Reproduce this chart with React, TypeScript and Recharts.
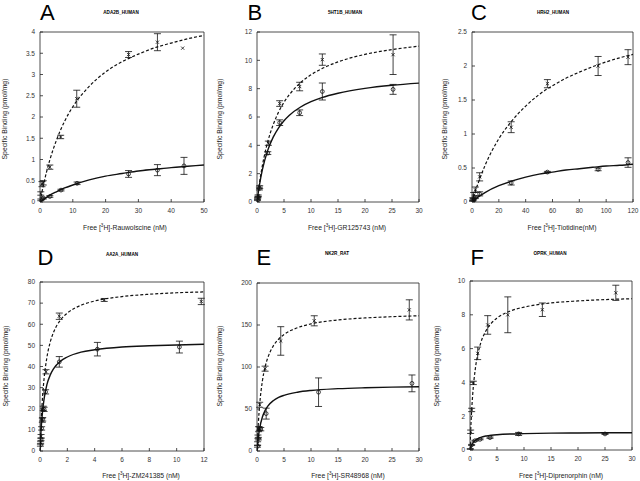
import { ComposedChart, Line, Scatter, ErrorBar, XAxis, YAxis } from "recharts";

// ─── Data ─────────────────────────────────────────────────────────────────────

// A – ADA2B_HUMAN
const A_CURVE_X = [0, 0.5, 1, 2, 3, 5, 7.5, 10, 15, 20, 25, 30, 35, 40, 45, 50];
const A_DASHED = [0, 0.2, 0.38, 0.71, 0.99, 1.45, 1.9, 2.24, 2.72, 3.06, 3.3, 3.48, 3.63, 3.74, 3.84, 3.92];
const A_SOLID = [0, 0.03, 0.057, 0.11, 0.16, 0.24, 0.33, 0.4, 0.52, 0.61, 0.67, 0.73, 0.77, 0.81, 0.84, 0.87];
const A_CROSS_X = [0.25, 0.6, 1.0, 3.0, 6.3, 11.2, 27.0, 35.8, 43.5];
const A_CROSS_Y = [0.2, 0.42, 0.45, 0.82, 1.53, 2.43, 3.47, 3.76, 3.62];
const A_CROSS_ERR = [0.04, 0.06, 0.05, 0.05, 0.04, 0.2, 0.07, 0.2, 0];
const A_CIRCLE_X = [0.25, 1.0, 3.0, 6.4, 11.3, 27.0, 35.8, 43.9];
const A_CIRCLE_Y = [0.05, 0.09, 0.13, 0.28, 0.44, 0.66, 0.75, 0.85];
const A_CIRCLE_ERR = [0.02, 0.02, 0.02, 0.02, 0.03, 0.08, 0.13, 0.2];
const A_X_TICKS = [0, 10, 20, 30, 40, 50];
const A_Y_TICKS = [0, 0.5, 1, 1.5, 2, 2.5, 3, 3.5, 4];

// B – 5HT1B_HUMAN
const B_CURVE_X = [0, 0.25, 0.5, 1, 2, 3, 4, 5, 6, 8, 10, 12, 15, 20, 25, 30];
const B_DASHED = [0, 0.76, 1.44, 2.58, 4.27, 5.46, 6.35, 7.04, 7.58, 8.4, 8.98, 9.41, 9.89, 10.42, 10.76, 11.0];
const B_SOLID = [0, 0.7, 1.3, 2.28, 3.66, 4.58, 5.24, 5.74, 6.13, 6.69, 7.08, 7.37, 7.68, 8.02, 8.24, 8.39];
const B_CROSS_X = [0.1, 0.2, 0.5, 2.1, 4.2, 7.9, 12.1, 25.2];
const B_CROSS_Y = [0.25, 0.45, 1.05, 4.15, 6.95, 8.15, 10.05, 10.4];
const B_CROSS_ERR = [0.05, 0.05, 0.1, 0.15, 0.2, 0.3, 0.4, 1.4];
const B_CIRCLE_X = [0.1, 0.2, 0.45, 2.0, 4.2, 7.9, 12.1, 25.2];
const B_CIRCLE_Y = [0.15, 0.35, 0.95, 3.45, 5.6, 6.3, 7.8, 7.95];
const B_CIRCLE_ERR = [0.05, 0.05, 0.1, 0.1, 0.2, 0.2, 0.6, 0.35];
const B_X_TICKS = [0, 5, 10, 15, 20, 25, 30];
const B_Y_TICKS = [0, 2, 4, 6, 8, 10, 12];

// C – HRH2_HUMAN
const C_CURVE_X = [0, 2, 5, 10, 20, 30, 40, 50, 60, 70, 80, 90, 100, 110, 120];
const C_DASHED = [0, 0.13, 0.3, 0.55, 0.93, 1.2, 1.41, 1.58, 1.71, 1.82, 1.91, 1.99, 2.06, 2.12, 2.17];
const C_SOLID = [0, 0.034, 0.079, 0.143, 0.24, 0.31, 0.365, 0.41, 0.44, 0.47, 0.49, 0.51, 0.53, 0.54, 0.556];
const C_CROSS_X = [0.5, 1.2, 2.5, 5.7, 29.2, 56.2, 94, 116.3];
const C_CROSS_Y = [0.04, 0.1, 0.18, 0.37, 1.1, 1.74, 2.0, 2.13];
const C_CROSS_ERR = [0.02, 0.04, 0.04, 0.06, 0.08, 0.06, 0.14, 0.11];
const C_CIRCLE_X = [0.5, 1.2, 2.5, 5.7, 29.2, 56.2, 94, 116.3];
const C_CIRCLE_Y = [0.02, 0.04, 0.07, 0.12, 0.28, 0.44, 0.48, 0.58];
const C_CIRCLE_ERR = [0.01, 0.01, 0.02, 0.03, 0.03, 0.01, 0.02, 0.07];
const C_X_TICKS = [0, 20, 40, 60, 80, 100, 120];
const C_Y_TICKS = [0, 0.5, 1, 1.5, 2, 2.5];

// D – AA2A_HUMAN
const D_CURVE_X = [0, 0.05, 0.1, 0.2, 0.3, 0.5, 0.75, 1, 1.5, 2, 3, 4, 6, 8, 10, 12];
const D_DASHED = [0, 9.0, 16.2, 26.8, 34.3, 44.1, 51.6, 56.3, 62.0, 65.3, 69.0, 71.0, 73.1, 74.2, 74.9, 75.3];
const D_SOLID = [0, 6.8, 12.1, 19.6, 24.7, 31.3, 36.0, 39.0, 42.5, 44.5, 46.8, 47.9, 49.2, 49.8, 50.2, 50.5];
const D_CROSS_X = [0.05, 0.08, 0.17, 0.24, 0.44, 1.41, 4.7, 11.8];
const D_CROSS_Y = [3.9, 7.0, 14.6, 20.2, 37.5, 63.8, 71.5, 70.8];
const D_CROSS_ERR = [0.5, 0.8, 1, 1, 1, 1.5, 0.7, 1.5];
const D_CIRCLE_X = [0.03, 0.07, 0.12, 0.2, 0.3, 0.41, 1.41, 4.2, 10.2];
const D_CIRCLE_Y = [2.8, 5.5, 10.7, 15, 19.7, 28, 42.2, 48.2, 49.2];
const D_CIRCLE_ERR = [0.5, 0.5, 0.8, 0.8, 1, 1, 2.5, 3.2, 2.8];
const D_X_TICKS = [0, 2, 4, 6, 8, 10, 12];
const D_Y_TICKS = [0, 10, 20, 30, 40, 50, 60, 70, 80];

// E – NK2R_RAT
const E_CURVE_X = [0, 0.1, 0.25, 0.5, 1, 1.5, 2, 3, 4, 5, 7.5, 10, 15, 20, 25, 30];
const E_DASHED = [0, 15.2, 33.4, 55.6, 83.4, 100, 111, 124.9, 133.2, 138.7, 146.8, 151.3, 156, 158.4, 159.9, 161];
const E_SOLID = [0, 7.5, 16.4, 27.2, 40.5, 48.3, 53.5, 59.9, 63.8, 66.3, 70.0, 72.1, 74.2, 75.3, 76.0, 76.5];
const E_CROSS_X = [0.12, 0.18, 0.3, 0.5, 1.5, 4.4, 10.6, 28.2];
const E_CROSS_Y = [9, 17, 26, 55, 98, 131, 155, 168];
const E_CROSS_ERR = [2, 2, 3, 3, 3, 17, 6, 12];
const E_CIRCLE_X = [0.1, 0.25, 0.43, 0.7, 1.7, 11.4, 28.7];
const E_CIRCLE_Y = [5.6, 14.7, 26.7, 26, 44.5, 70, 80.5];
const E_CIRCLE_ERR = [1, 1.5, 2, 2, 6.5, 17, 10];
const E_X_TICKS = [0, 5, 10, 15, 20, 25, 30];
const E_Y_TICKS = [0, 50, 100, 150, 200];

// F – OPRK_HUMAN
const F_CURVE_X = [0, 0.1, 0.25, 0.5, 1, 1.5, 2, 3, 4, 5, 7.5, 10, 15, 20, 25, 30];
const F_DASHED = [0, 0.92, 2.0, 3.28, 4.84, 5.75, 6.35, 7.08, 7.52, 7.81, 8.23, 8.45, 8.7, 8.82, 8.9, 8.95];
const F_SOLID = [0, 0.117, 0.25, 0.4, 0.58, 0.68, 0.75, 0.83, 0.875, 0.905, 0.95, 0.97, 1.0, 1.01, 1.017, 1.02];
const F_CROSS_X = [0.12, 0.31, 0.62, 1.42, 3.28, 7.0, 13.4, 27.0];
const F_CROSS_Y = [1.08, 2.37, 3.97, 5.72, 7.4, 8.0, 8.3, 9.3];
const F_CROSS_ERR = [0.1, 0.1, 0.1, 0.37, 0.55, 1.06, 0.4, 0.45];
const F_CIRCLE_X = [0.05, 0.3, 0.93, 1.85, 3.7, 9.0, 25];
const F_CIRCLE_Y = [0.06, 0.3, 0.55, 0.63, 0.73, 0.95, 0.95];
const F_CIRCLE_ERR = [0.02, 0.03, 0.03, 0.03, 0.04, 0.09, 0.03];
const F_X_TICKS = [0, 5, 10, 15, 20, 25, 30];
const F_Y_TICKS = [0, 2, 4, 6, 8, 10];

const Y_LABEL = "Specific Binding (pmol/mg)";

// ─── Helpers ──────────────────────────────────────────────────────────────────

interface Pt {
  x: number;
  y: number;
  e?: number;
}

const toPoints = (xs: number[], ys: number[], es?: number[]): Pt[] =>
  xs.map((x, i) => ({ x, y: ys[i], e: es ? es[i] : undefined }));

const FONT = '"Liberation Sans", Arial, Helvetica, sans-serif';
const INK = "#111";
const FRAME = "#222";

function CrossMark(props: any) {
  const { cx, cy } = props;
  const s = 1.6;
  return (
    <g stroke={INK} strokeWidth={0.8}>
      <line x1={cx - s} y1={cy - s} x2={cx + s} y2={cy + s} />
      <line x1={cx - s} y1={cy + s} x2={cx + s} y2={cy - s} />
    </g>
  );
}

function CircleMark(props: any) {
  const { cx, cy } = props;
  return <circle cx={cx} cy={cy} r={1.9} fill="none" stroke={INK} strokeWidth={0.8} />;
}

// ─── Panel ────────────────────────────────────────────────────────────────────

interface PanelProps {
  letter: string;
  title: string;
  ligand: string; // text after "Free [3H]-"
  plot: [number, number, number, number]; // left, top, width, height
  xTicks: number[];
  yTicks: number[];
  curveX: number[];
  dashed: number[];
  solid: number[];
  crosses: Pt[];
  circles: Pt[];
  letterAt: [number, number];
  titleAt: [number, number];
  xLabelAt: [number, number];
  yLabelAt: [number, number];
}

const PAD_L = 40;
const PAD_R = 8;
const PAD_T = 32;
const PAD_B = 36;

function Panel(p: PanelProps) {
  const [px, py, pw, ph] = p.plot;
  const xMax = p.xTicks[p.xTicks.length - 1];
  const yMax = p.yTicks[p.yTicks.length - 1];
  const dashedData = p.curveX.map((x, i) => ({ x, y: p.dashed[i] }));
  const solidData = p.curveX.map((x, i) => ({ x, y: p.solid[i] }));
  const tickFont = { fontSize: 6.5, fill: "#333" };
  const axisStroke = { stroke: FRAME, strokeWidth: 0.8 };

  return (
    <>
      <div
        style={{
          position: "absolute",
          left: p.letterAt[0],
          top: p.letterAt[1],
          fontSize: 22,
          color: "#000",
        }}
      >
        {p.letter}
      </div>
      <div
        style={{
          position: "absolute",
          left: p.titleAt[0],
          top: p.titleAt[1],
          transform: "translate(-50%, -50%)",
          fontSize: 4.6,
          fontWeight: 700,
          lineHeight: 1,
          whiteSpace: "nowrap",
        }}
      >
        {p.title}
      </div>
      <div
        style={{
          position: "absolute",
          left: p.xLabelAt[0],
          top: p.xLabelAt[1],
          transform: "translate(-50%, -50%)",
          fontSize: 6.8,
          lineHeight: 1,
          whiteSpace: "nowrap",
          color: "#222",
        }}
      >
        Free [<sup style={{ fontSize: 4.6, verticalAlign: 2.5, lineHeight: 0 }}>3</sup>H]-{p.ligand}
      </div>
      <div
        style={{
          position: "absolute",
          left: p.yLabelAt[0],
          top: p.yLabelAt[1],
          transform: "translate(-50%, -50%) rotate(-90deg)",
          fontSize: 6.8,
          lineHeight: 1,
          whiteSpace: "nowrap",
          color: "#222",
        }}
      >
        {Y_LABEL}
      </div>
      <div style={{ position: "absolute", left: px - PAD_L, top: py - PAD_T }}>
        <ComposedChart
          width={pw + PAD_L + PAD_R}
          height={ph + PAD_T + PAD_B}
          margin={{ top: 0, right: 0, bottom: 0, left: 0 }}
        >
          <XAxis
            dataKey="x"
            type="number"
            domain={[0, xMax]}
            ticks={p.xTicks}
            interval={0}
            allowDataOverflow
            height={PAD_B}
            tickSize={-3}
            tickMargin={9}
            axisLine={axisStroke}
            tickLine={axisStroke}
            tick={tickFont}
          />
          <XAxis
            xAxisId="top"
            orientation="top"
            type="number"
            domain={[0, xMax]}
            ticks={p.xTicks}
            interval={0}
            allowDataOverflow
            height={PAD_T}
            tickSize={-3}
            axisLine={axisStroke}
            tickLine={axisStroke}
            tick={false}
          />
          <YAxis
            dataKey="y"
            type="number"
            domain={[0, yMax]}
            ticks={p.yTicks}
            interval={0}
            allowDataOverflow
            width={PAD_L}
            tickSize={-3}
            tickMargin={8}
            axisLine={axisStroke}
            tickLine={axisStroke}
            tick={tickFont}
          />
          <YAxis
            yAxisId="right"
            orientation="right"
            type="number"
            domain={[0, yMax]}
            ticks={p.yTicks}
            interval={0}
            allowDataOverflow
            width={PAD_R}
            tickSize={-3}
            axisLine={axisStroke}
            tickLine={axisStroke}
            tick={false}
          />
          <Line
            data={dashedData}
            dataKey="y"
            type="monotone"
            stroke={INK}
            strokeWidth={1.2}
            strokeDasharray="3 2"
            dot={false}
            activeDot={false}
            isAnimationActive={false}
          />
          <Line
            data={solidData}
            dataKey="y"
            type="monotone"
            stroke={INK}
            strokeWidth={1.4}
            dot={false}
            activeDot={false}
            isAnimationActive={false}
          />
          <Scatter data={p.crosses} dataKey="y" shape={CrossMark} isAnimationActive={false}>
            <ErrorBar dataKey="e" direction="y" width={3.5} stroke={INK} strokeWidth={0.8} />
          </Scatter>
          <Scatter data={p.circles} dataKey="y" shape={CircleMark} isAnimationActive={false}>
            <ErrorBar dataKey="e" direction="y" width={3.5} stroke={INK} strokeWidth={0.8} />
          </Scatter>
        </ComposedChart>
      </div>
    </>
  );
}

// ─── App ──────────────────────────────────────────────────────────────────────

export default function App() {
  return (
    <div
      style={{
        position: "absolute",
        left: 0,
        top: 0,
        width: 640,
        height: 481,
        background: "#fff",
        overflow: "hidden",
        fontFamily: FONT,
      }}
    >
      <Panel
        letter="A"
        title="ADA2B_HUMAN"
        ligand="Rauwolscine (nM)"
        plot={[40, 32, 164, 170]}
        xTicks={A_X_TICKS}
        yTicks={A_Y_TICKS}
        curveX={A_CURVE_X}
        dashed={A_DASHED}
        solid={A_SOLID}
        crosses={toPoints(A_CROSS_X, A_CROSS_Y, A_CROSS_ERR)}
        circles={toPoints(A_CIRCLE_X, A_CIRCLE_Y, A_CIRCLE_ERR)}
        letterAt={[40, 0]}
        titleAt={[121, 13]}
        xLabelAt={[125, 228]}
        yLabelAt={[5, 119]}
      />
      <Panel
        letter="B"
        title="5HT1B_HUMAN"
        ligand="GR125743 (nM)"
        plot={[257, 32, 162, 170]}
        xTicks={B_X_TICKS}
        yTicks={B_Y_TICKS}
        curveX={B_CURVE_X}
        dashed={B_DASHED}
        solid={B_SOLID}
        crosses={toPoints(B_CROSS_X, B_CROSS_Y, B_CROSS_ERR)}
        circles={toPoints(B_CIRCLE_X, B_CIRCLE_Y, B_CIRCLE_ERR)}
        letterAt={[247.5, 0]}
        titleAt={[345, 13]}
        xLabelAt={[347, 228]}
        yLabelAt={[220, 119]}
      />
      <Panel
        letter="C"
        title="HRH2_HUMAN"
        ligand="Tiotidine(nM)"
        plot={[472, 32, 161, 170]}
        xTicks={C_X_TICKS}
        yTicks={C_Y_TICKS}
        curveX={C_CURVE_X}
        dashed={C_DASHED}
        solid={C_SOLID}
        crosses={toPoints(C_CROSS_X, C_CROSS_Y, C_CROSS_ERR)}
        circles={toPoints(C_CIRCLE_X, C_CIRCLE_Y, C_CIRCLE_ERR)}
        letterAt={[471, 0]}
        titleAt={[553, 13]}
        xLabelAt={[562, 228]}
        yLabelAt={[445, 119]}
      />
      <Panel
        letter="D"
        title="AA2A_HUMAN"
        ligand="ZM241385 (nM)"
        plot={[40, 282, 164, 169]}
        xTicks={D_X_TICKS}
        yTicks={D_Y_TICKS}
        curveX={D_CURVE_X}
        dashed={D_DASHED}
        solid={D_SOLID}
        crosses={toPoints(D_CROSS_X, D_CROSS_Y, D_CROSS_ERR)}
        circles={toPoints(D_CIRCLE_X, D_CIRCLE_Y, D_CIRCLE_ERR)}
        letterAt={[37.5, 245]}
        titleAt={[122, 255]}
        xLabelAt={[141, 476]}
        yLabelAt={[6, 366]}
      />
      <Panel
        letter="E"
        title="NK2R_RAT"
        ligand="SR48968 (nM)"
        plot={[257, 283, 162, 168]}
        xTicks={E_X_TICKS}
        yTicks={E_Y_TICKS}
        curveX={E_CURVE_X}
        dashed={E_DASHED}
        solid={E_SOLID}
        crosses={toPoints(E_CROSS_X, E_CROSS_Y, E_CROSS_ERR)}
        circles={toPoints(E_CIRCLE_X, E_CIRCLE_Y, E_CIRCLE_ERR)}
        letterAt={[256.5, 245]}
        titleAt={[337, 254]}
        xLabelAt={[348, 476]}
        yLabelAt={[220, 366]}
      />
      <Panel
        letter="F"
        title="OPRK_HUMAN"
        ligand="Diprenorphin (nM)"
        plot={[470, 281, 162, 169]}
        xTicks={F_X_TICKS}
        yTicks={F_Y_TICKS}
        curveX={F_CURVE_X}
        dashed={F_DASHED}
        solid={F_SOLID}
        crosses={toPoints(F_CROSS_X, F_CROSS_Y, F_CROSS_ERR)}
        circles={toPoints(F_CIRCLE_X, F_CIRCLE_Y, F_CIRCLE_ERR)}
        letterAt={[470.5, 245]}
        titleAt={[550, 254]}
        xLabelAt={[561, 476]}
        yLabelAt={[437, 366]}
      />
    </div>
  );
}
